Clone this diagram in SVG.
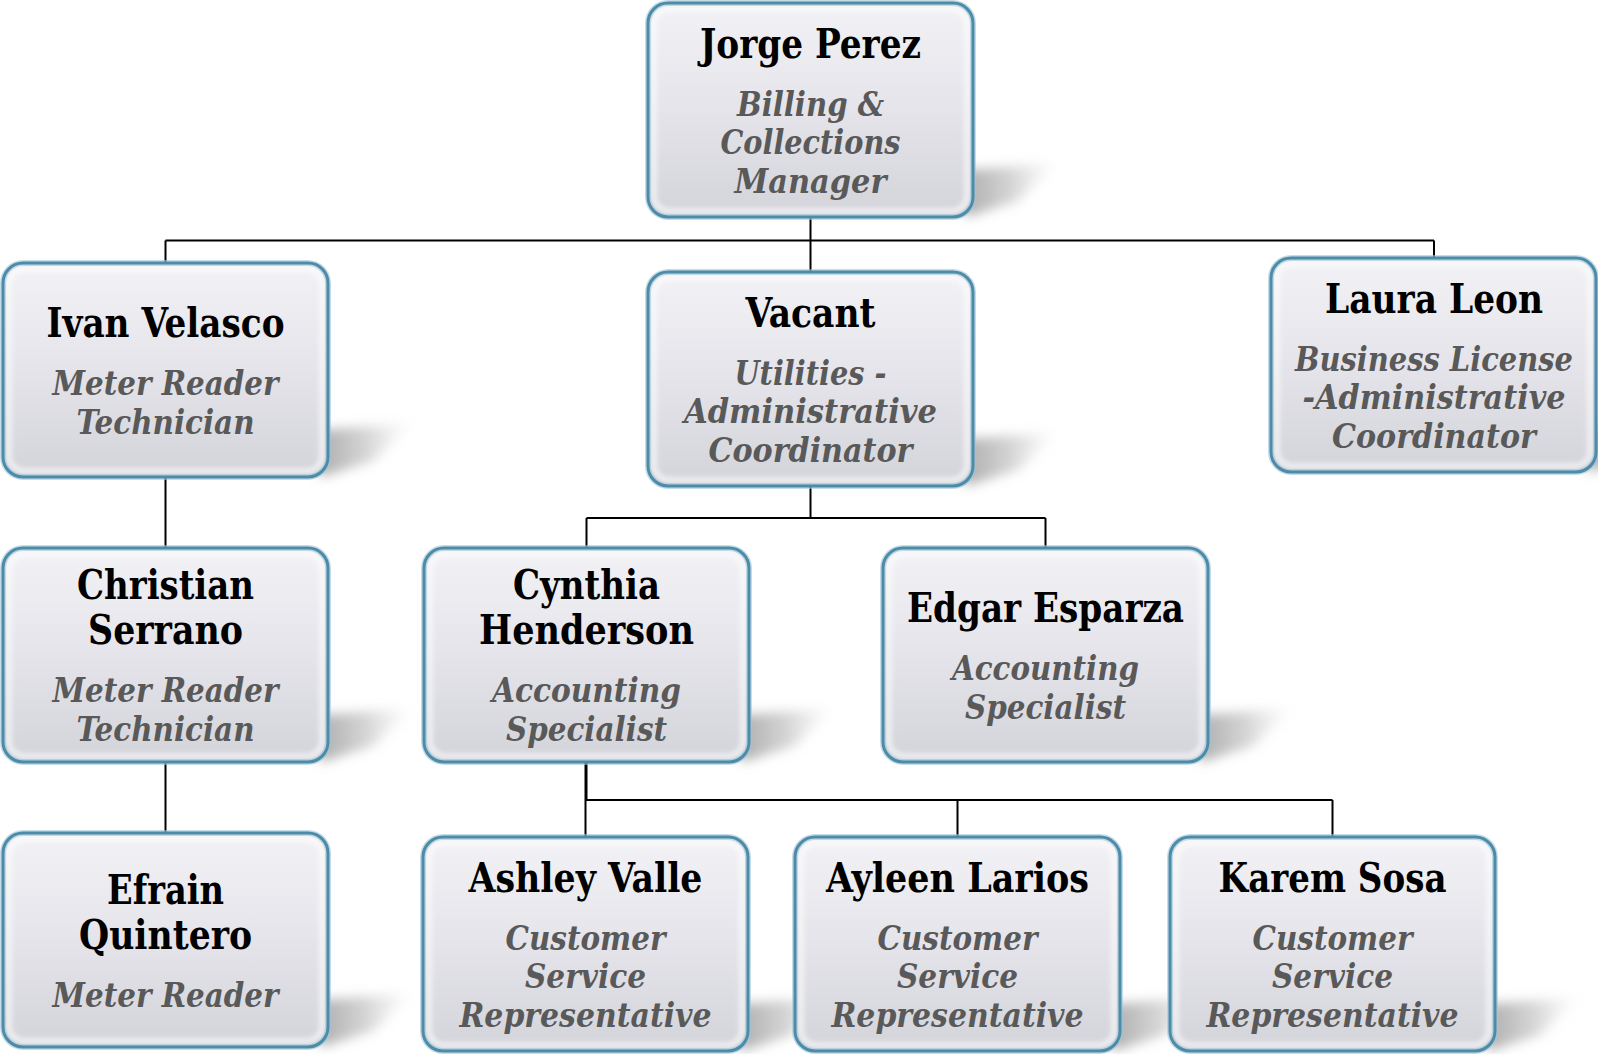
<svg xmlns="http://www.w3.org/2000/svg" width="1598" height="1054" viewBox="0 0 1598 1054">
<defs>
<linearGradient id="fillG" x1="0" y1="0" x2="0" y2="1">
<stop offset="0" stop-color="#f2f2f6"/>
<stop offset="0.5" stop-color="#e4e4ea"/>
<stop offset="1" stop-color="#d3d4da"/>
</linearGradient>
<linearGradient id="shG" x1="0" y1="0" x2="1" y2="0">
<stop offset="0" stop-color="#808080" stop-opacity="0.75"/>
<stop offset="0.55" stop-color="#a0a0a0" stop-opacity="0.45"/>
<stop offset="1" stop-color="#c8c8c8" stop-opacity="0"/>
</linearGradient>
<filter id="blur6" x="-30%" y="-60%" width="160%" height="220%"><feGaussianBlur stdDeviation="6"/></filter>
<filter id="blur2" x="-5%" y="-5%" width="110%" height="110%"><feGaussianBlur stdDeviation="2.5"/></filter>
<g id="card">
<polygon points="305,168 410,160 370,198 318,214" fill="url(#shG)" filter="url(#blur6)"/>
<rect x="0" y="0" width="325" height="214" rx="20" fill="url(#fillG)"/>
<rect x="6" y="6" width="313" height="202" rx="15" fill="none" stroke="#ffffff" stroke-opacity="0.7" stroke-width="5" filter="url(#blur2)"/>
<rect x="0" y="0" width="325" height="214" rx="20" fill="none" stroke="#9fc6d8" stroke-width="6" stroke-opacity="0.6"/>
<rect x="0" y="0" width="325" height="214" rx="20" fill="none" stroke="#4d8ba8" stroke-width="3"/>
</g>
</defs>
<style>
.nm{font-family:"DejaVu Serif Condensed","DejaVu Serif","Liberation Serif",serif;font-weight:bold;font-size:41px;fill:#000;text-anchor:middle}
.tt{font-family:"DejaVu Serif Condensed","DejaVu Serif","Liberation Serif",serif;font-weight:bold;font-style:italic;font-size:33px;fill:#595959;text-anchor:middle}
.cn{fill:none;stroke:#000;stroke-width:2}
</style>
<rect width="1598" height="1054" fill="#ffffff"/>
<g id="connectors">
<path class="cn" d="M810.5 217 V240.5 M165.5 240.5 H1434 M165.5 240.5 V263 M810.5 240.5 V272 M1434 240.5 V258"/>
<path class="cn" d="M810.5 486 V518 M586.5 518 H1045.5 M586.5 518 V548 M1045.5 518 V548"/>
<path class="cn" d="M165.5 477 V548 M165.5 762 V833"/>
<path class="cn" d="M586 762 V800" style="stroke-width:3"/>
<path class="cn" d="M586 800 H1332.5 M585.5 800 V837 M957.5 800 V837 M1332.5 800 V837"/>
</g>
<g id="jorge"><use href="#card" x="648" y="3"/>
<text class="nm" x="810.5" y="57.5" textLength="221" lengthAdjust="spacingAndGlyphs">Jorge Perez</text>
<text class="tt" x="810.5" y="115.5" textLength="147" lengthAdjust="spacingAndGlyphs">Billing &amp;</text>
<text class="tt" x="810.5" y="154" textLength="180" lengthAdjust="spacingAndGlyphs">Collections</text>
<text class="tt" x="810.5" y="192.5" textLength="152" lengthAdjust="spacingAndGlyphs">Manager</text></g>
<g id="ivan"><use href="#card" x="3" y="263"/>
<text class="nm" x="165.5" y="337" textLength="238" lengthAdjust="spacingAndGlyphs">Ivan Velasco</text>
<text class="tt" x="165.5" y="395" textLength="226" lengthAdjust="spacingAndGlyphs">Meter Reader</text>
<text class="tt" x="165.5" y="433.5" textLength="178" lengthAdjust="spacingAndGlyphs">Technician</text></g>
<g id="vacant"><use href="#card" x="648" y="272"/>
<text class="nm" x="810.5" y="326.5" textLength="130" lengthAdjust="spacingAndGlyphs">Vacant</text>
<text class="tt" x="810.5" y="384.5" textLength="152" lengthAdjust="spacingAndGlyphs">Utilities -</text>
<text class="tt" x="810.5" y="423" textLength="253" lengthAdjust="spacingAndGlyphs">Administrative</text>
<text class="tt" x="810.5" y="461.5" textLength="204" lengthAdjust="spacingAndGlyphs">Coordinator</text></g>
<g id="laura"><use href="#card" x="1271" y="258"/>
<text class="nm" x="1434" y="312.5" textLength="218" lengthAdjust="spacingAndGlyphs">Laura Leon</text>
<text class="tt" x="1434" y="370.5" textLength="278" lengthAdjust="spacingAndGlyphs">Business License</text>
<text class="tt" x="1434" y="409" textLength="263" lengthAdjust="spacingAndGlyphs">-Administrative</text>
<text class="tt" x="1434" y="447.5" textLength="204" lengthAdjust="spacingAndGlyphs">Coordinator</text></g>
<g id="christian"><use href="#card" x="3" y="548"/>
<text class="nm" x="165.5" y="599" textLength="177" lengthAdjust="spacingAndGlyphs">Christian</text>
<text class="nm" x="165.5" y="644" textLength="155" lengthAdjust="spacingAndGlyphs">Serrano</text>
<text class="tt" x="165.5" y="702" textLength="226" lengthAdjust="spacingAndGlyphs">Meter Reader</text>
<text class="tt" x="165.5" y="740.5" textLength="178" lengthAdjust="spacingAndGlyphs">Technician</text></g>
<g id="cynthia"><use href="#card" x="424" y="548"/>
<text class="nm" x="586.5" y="599" textLength="147" lengthAdjust="spacingAndGlyphs">Cynthia</text>
<text class="nm" x="586.5" y="644" textLength="215" lengthAdjust="spacingAndGlyphs">Henderson</text>
<text class="tt" x="586.5" y="702" textLength="189" lengthAdjust="spacingAndGlyphs">Accounting</text>
<text class="tt" x="586.5" y="740.5" textLength="161" lengthAdjust="spacingAndGlyphs">Specialist</text></g>
<g id="edgar"><use href="#card" x="883" y="548"/>
<text class="nm" x="1045.5" y="622" textLength="277" lengthAdjust="spacingAndGlyphs">Edgar Esparza</text>
<text class="tt" x="1045.5" y="680" textLength="187" lengthAdjust="spacingAndGlyphs">Accounting</text>
<text class="tt" x="1045.5" y="718.5" textLength="161" lengthAdjust="spacingAndGlyphs">Specialist</text></g>
<g id="efrain"><use href="#card" x="3" y="833"/>
<text class="nm" x="165.5" y="903.5" textLength="117" lengthAdjust="spacingAndGlyphs">Efrain</text>
<text class="nm" x="165.5" y="948.5" textLength="173" lengthAdjust="spacingAndGlyphs">Quintero</text>
<text class="tt" x="165.5" y="1006.5" textLength="226" lengthAdjust="spacingAndGlyphs">Meter Reader</text></g>
<g id="ashley"><use href="#card" x="423" y="837"/>
<text class="nm" x="585.5" y="891.5" textLength="234" lengthAdjust="spacingAndGlyphs">Ashley Valle</text>
<text class="tt" x="585.5" y="949.5" textLength="160" lengthAdjust="spacingAndGlyphs">Customer</text>
<text class="tt" x="585.5" y="988" textLength="121" lengthAdjust="spacingAndGlyphs">Service</text>
<text class="tt" x="585.5" y="1026.5" textLength="252" lengthAdjust="spacingAndGlyphs">Representative</text></g>
<g id="ayleen"><use href="#card" x="795" y="837"/>
<text class="nm" x="957.5" y="891.5" textLength="263" lengthAdjust="spacingAndGlyphs">Ayleen Larios</text>
<text class="tt" x="957.5" y="949.5" textLength="160" lengthAdjust="spacingAndGlyphs">Customer</text>
<text class="tt" x="957.5" y="988" textLength="121" lengthAdjust="spacingAndGlyphs">Service</text>
<text class="tt" x="957.5" y="1026.5" textLength="252" lengthAdjust="spacingAndGlyphs">Representative</text></g>
<g id="karem"><use href="#card" x="1170" y="837"/>
<text class="nm" x="1332.5" y="891.5" textLength="228" lengthAdjust="spacingAndGlyphs">Karem Sosa</text>
<text class="tt" x="1332.5" y="949.5" textLength="160" lengthAdjust="spacingAndGlyphs">Customer</text>
<text class="tt" x="1332.5" y="988" textLength="121" lengthAdjust="spacingAndGlyphs">Service</text>
<text class="tt" x="1332.5" y="1026.5" textLength="252" lengthAdjust="spacingAndGlyphs">Representative</text></g>
</svg>
